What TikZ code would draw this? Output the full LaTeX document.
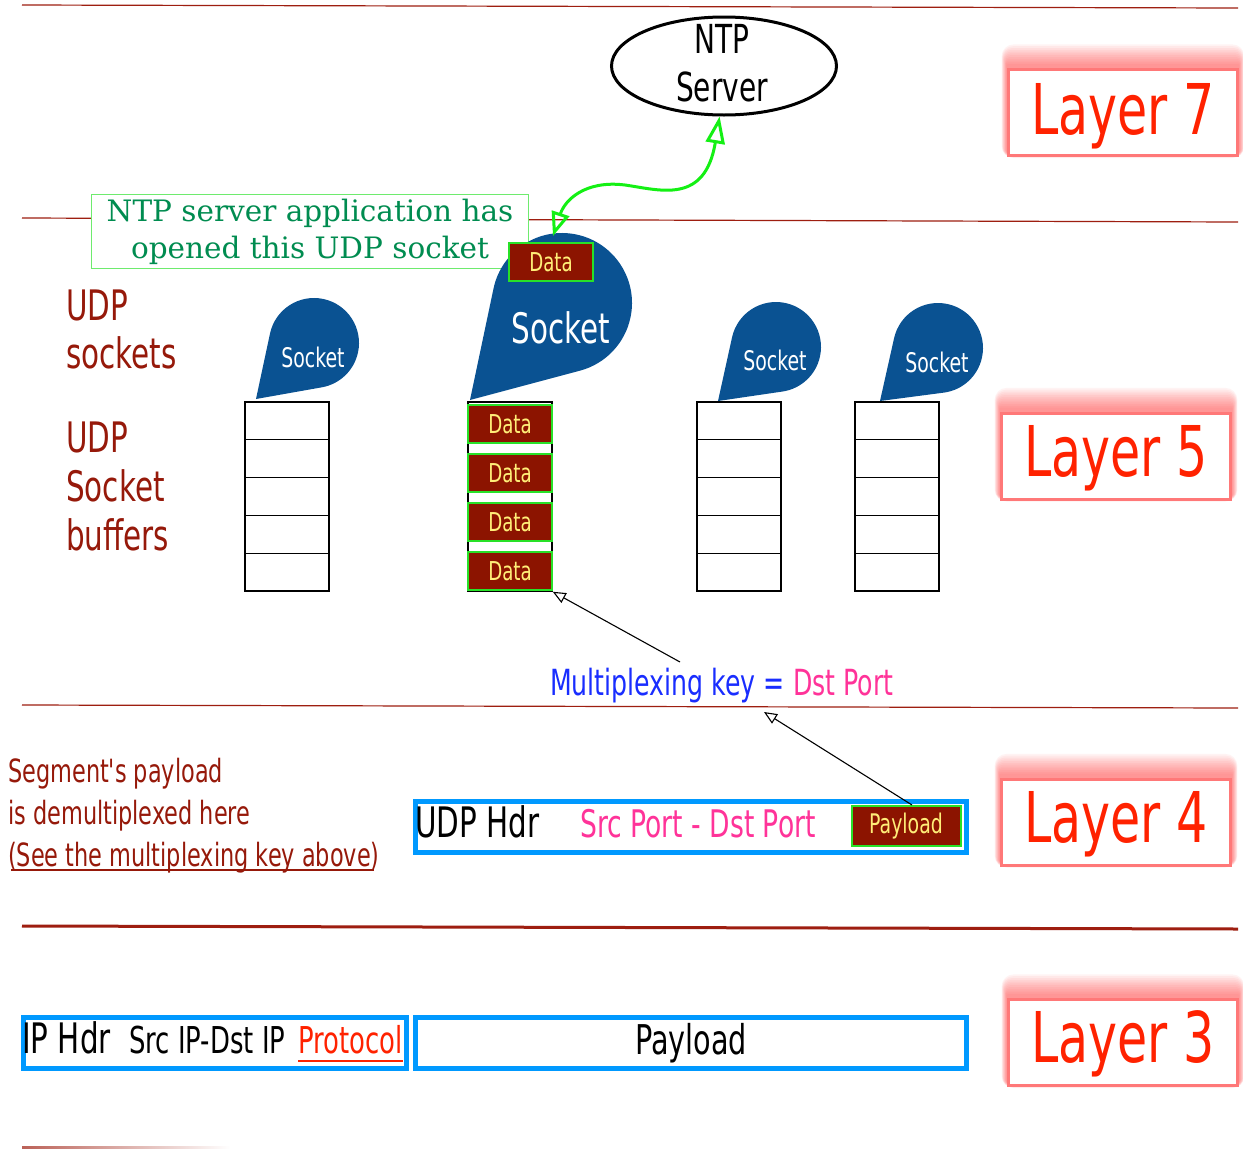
\documentclass[tikz,border=0pt]{standalone}
\usepackage{fontspec}
\usetikzlibrary{shapes.geometric,arrows.meta,calc,backgrounds}
\newfontfamily\condsans{DejaVu Sans}[FakeStretch=0.7]
\newfontfamily\noteserif{DejaVu Serif}
\newcommand\fsz[2]{\fontsize{#1}{#2}\selectfont}

\definecolor{rulered}{RGB}{158,30,16}
\definecolor{darkred}{RGB}{150,25,10}
\definecolor{sockblue}{RGB}{10,82,146}
\definecolor{datared}{RGB}{140,20,0}
\definecolor{datayellow}{RGB}{255,238,120}
\definecolor{boxgreen}{RGB}{40,225,40}
\definecolor{arrowgreen}{RGB}{20,240,20}
\definecolor{textgreen}{RGB}{0,140,80}
\definecolor{notegreen}{RGB}{110,235,110}
\definecolor{segblue}{RGB}{0,153,255}
\definecolor{portpink}{RGB}{255,51,153}
\definecolor{keyblue}{RGB}{25,45,255}
\definecolor{layertext}{RGB}{255,34,0}
\definecolor{layerframe}{RGB}{255,120,120}
\definecolor{glowred}{RGB}{255,60,60}

% teardrop socket: centre (#1,#2), radius #3, tip (#4,#5)
\newcommand\teardrop[5]{%
  \pgfmathsetmacro\tdd{veclen(#4-(#1),#5-(#2))}%
  \pgfmathsetmacro\tdth{atan2(#5-(#2),#4-(#1))}%
  \pgfmathsetmacro\tdal{acos(#3/\tdd)}%
  \fill[sockblue] (#4,#5) -- ($(#1,#2)+(\tdth+\tdal:#3)$)
    arc[start angle=\tdth+\tdal, end angle=\tdth-\tdal+360, radius=#3] -- cycle;}

% soft red halo round a layer frame, strongest along the top edge
\newcommand\glowframe[1]{%
  \foreach \e in {1,...,12}{%
    \fill[glowred,opacity=0.06,rounded corners={\e pt}]
      ($(#1.north west)+(-0.45*\e,-1.8*\e-2)$) rectangle ($(#1.south east)+(0.45*\e,0.5*\e-5)$);}}

\begin{document}
\begin{tikzpicture}[x=1pt,y=-1pt,
  rulestyle/.style={draw=rulered,line width=1.2},
  lbl/.style={inner sep=0,anchor=base west,text=darkred,font=\condsans\fsz{42}{50}},
  seglbl/.style={inner sep=0,anchor=base west,text=darkred,font=\condsans\fsz{32}{40}},
  socktext/.style={inner sep=0,text=white},
  databox/.style={draw=boxgreen,line width=2,fill=datared,text=datayellow,
    minimum width=84,minimum height=38,inner sep=0,font=\condsans\fsz{26}{30}},
  bufbox/.style={draw=black,line width=1.5,minimum width=84,minimum height=189,inner sep=0},
  layerbox/.style={draw=layerframe,line width=3,fill=white,minimum width=229,minimum height=86,inner sep=0},
  layerlbl/.style={inner sep=0,anchor=base,text=layertext,font=\condsans\fsz{70}{84}},
  segbox/.style={draw=segblue,line width=5,inner sep=0,minimum height=51},
  ptr/.style={-{Triangle[open,length=13pt,width=11pt]},line width=1.1},
  gptr/.style={{Triangle[open,length=24pt,width=18pt]}-{Triangle[open,length=27pt,width=19pt]},
    draw=arrowgreen,line width=3}]

\useasboundingbox (0,0) rectangle (1243,1149);

% horizontal layer separators
\draw[rulestyle] (22,5) -- (1238,8);
\draw[rulestyle] (22,218) -- (1238,222);
\draw[rulestyle] (22,705) -- (1238,708);
\draw[draw=rulered,line width=3] (22,926) -- (1238,929);
\shade[left color=rulered!70,right color=white] (22,1146) rectangle (230,1148.5);

% layer frames
\node[layerbox] (L7) at (1123,112.5) {};
\node[layerbox] (L5) at (1116,456) {};
\node[layerbox] (L4) at (1116,822) {};
\node[layerbox] (L3) at (1123,1042.5) {};
\node[layerlbl] (L7t) at ($(L7.center)+(0,22)$) {Layer 7};
\node[layerlbl] (L5t) at ($(L5.center)+(0,20)$) {Layer 5};
\node[layerlbl] (L4t) at ($(L4.center)+(0,20)$) {Layer 4};
\node[layerlbl] (L3t) at ($(L3.center)+(0,20)$) {Layer 3};
\begin{pgfonlayer}{background}
  \fill[white] (0,0) rectangle (1243,1149);
  \glowframe{L7}\glowframe{L5}\glowframe{L4}\glowframe{L3}
\end{pgfonlayer}

% application
\node[ellipse,draw=black,line width=3,minimum width=225,minimum height=98,inner sep=0] (ntp) at (724,66) {};
\node[align=center,inner sep=0,font=\condsans\fsz{40}{48}] (ntpt) at (722,63) {NTP\\Server};

% note about the opened socket
\node[draw=notegreen,line width=1.5,fill=white,minimum width=437,minimum height=74,
  inner sep=0,align=center,text=textgreen,font=\noteserif\fsz{29.5}{37}] (note) at (310,231.5)
  {NTP server application has\\opened this UDP socket};

% sockets
\teardrop{314}{343}{45}{256}{399}
\teardrop{562}{303}{70}{470}{400}
\teardrop{776}{347}{45}{718}{401}
\teardrop{938}{348}{45}{880}{401}
\node[socktext,font=\condsans\fsz{27}{30}] (s1) at (313,357) {Socket};
\node[socktext,font=\condsans\fsz{42}{48}] (s2) at (561,328) {Socket};
\node[socktext,font=\condsans\fsz{27}{30}] (s3) at (775,360) {Socket};
\node[socktext,font=\condsans\fsz{27}{30}] (s4) at (937,362) {Socket};
\node[databox] (dtop) at (551,262) {Data};

\coordinate (gtip) at (553,236);
\draw[gptr] (gtip) .. controls (565,200) and (585,180) .. (625,185)
  .. controls (660,190) and (705,205) .. (ntp.265);

% socket buffers
\node[bufbox] (buf1) at (287,496.5) {};
\node[bufbox] (buf2) at (510,496.5) {};
\node[bufbox] (buf3) at (739,496.5) {};
\node[bufbox] (buf4) at (897,496.5) {};
\foreach \b in {buf1,buf3,buf4}
  \foreach \k in {38,76,114,152}
    \draw[line width=1.5] ($(\b.north west)+(0,\k)$) -- ($(\b.north east)+(0,\k)$);
\foreach \n/\y in {1/424,2/473,3/522,4/571}
  \node[databox] (d\n) at (510,\y) {Data};

% left-hand labels
\node[lbl] (us1) at (66,320) {UDP};
\node[lbl] (us2) at (66,368) {sockets};
\node[lbl] (ub1) at (66,452) {UDP};
\node[lbl] (ub2) at (66,501) {Socket};
\node[lbl] (ub3) at (66,550) {buffers};

% multiplexing key
\node[inner sep=0,anchor=base west,font=\condsans\fsz{36}{40}] (mux) at (550,695)
  {\textcolor{keyblue}{Multiplexing key =} \textcolor{portpink}{Dst Port}};
\coordinate (k1) at (680,662);
\draw[ptr] (k1) -- (buf2.south east);

% UDP segment
\node[segbox,minimum width=551] (udp) at (691,827) {};
\node[inner sep=0,anchor=base west,font=\condsans\fsz{42}{48}] (udph) at (415,837) {UDP Hdr};
\node[inner sep=0,anchor=base west,text=portpink,font=\condsans\fsz{38}{42}] (ports) at (580,837) {Src Port - Dst Port};
\node[databox,minimum width=109,minimum height=40,font=\condsans\fsz{27}{30}] (pay) at (906,826) {Payload};
\coordinate (k2) at (764,712);
\draw[ptr] ($(pay.north)+(6,0)$) -- (k2);

\node[seglbl] (sg1) at (8,782) {Segment's payload};
\node[seglbl] (sg2) at (8,824) {is demultiplexed here};
\node[seglbl] (sg3) at (8,866) {(See the multiplexing key above)};
\draw[darkred,line width=1.5] ($(sg3.base west)+(3,4)$) -- ($(sg3.base east)+(-6,4)$);

% IP datagram
\node[segbox,minimum width=383] (iph) at (215,1043) {};
\node[segbox,minimum width=551,font=\condsans\fsz{41}{48}] (ippay) at (691,1043) {Payload};
\node[inner sep=0,anchor=base west,font=\condsans\fsz{42}{48}] (ipt) at (22,1053) {IP Hdr};
\node[inner sep=0,anchor=base west,font=\condsans\fsz{37}{42}] (ipad) at (129,1053) {Src IP-Dst IP};
\node[inner sep=0,anchor=base west,text=layertext,font=\condsans\fsz{37}{42}] (proto) at (298,1053) {Protocol};
\draw[layertext,line width=2.5] ($(proto.base west)+(0,8)$) -- ($(proto.base east)+(0,8)$);

\end{tikzpicture}
\end{document}
